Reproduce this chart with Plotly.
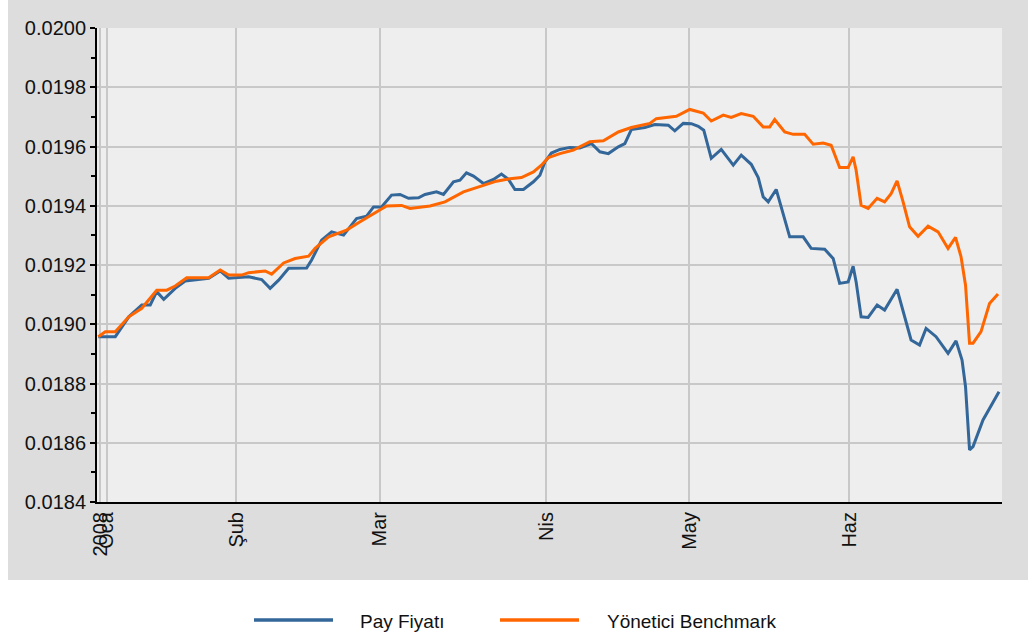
import plotly.graph_objects as go

# x = trading-day index, values in price units
pay_x = [0.2, 3.6, 6.3, 8.9, 10.6, 11.9, 13.3, 15.6, 17.6, 22.3, 24.6, 26.3, 30.3, 32.9, 34.6, 36.3, 38.3, 41.9,
         42.9, 44.9, 46.9, 49.3, 51.9, 53.9, 55.3, 56.9, 58.9, 60.6, 62.3, 64.3, 65.6, 67.9, 69.3, 71.3, 72.6,
         73.9, 75.3, 77.3, 79.3, 80.9, 82.3, 83.6, 85.3, 87.3, 88.6, 89.6, 90.9, 92.6, 94.6, 96.6, 98.9, 100.6,
         102.3, 104.3, 105.6, 106.9, 109.6, 111.6, 114.3, 115.6, 117.3, 118.9, 120.3, 121.4, 122.9, 124.9, 127.3,
         128.9, 130.9, 132.3, 133.3, 134.3, 135.9, 137.3, 138.6, 141.3, 142.9, 145.6, 147.3, 148.6, 150.3, 151.3,
         151.9, 152.9, 154.3, 156.1, 157.6, 160.1, 161.3, 162.9, 164.6, 165.9, 167.9, 170.3, 171.9, 173.1, 173.8,
         174.6, 175.3, 177.3, 180.5]
pay_y = [0.018958, 0.018958, 0.019025, 0.019065, 0.019065, 0.019110, 0.019084, 0.019121, 0.019146, 0.019155,
         0.019180, 0.019155, 0.019160, 0.019151, 0.019121, 0.019149, 0.019189, 0.019190, 0.019217, 0.019284,
         0.019312, 0.019301, 0.019357, 0.019365, 0.019396, 0.019396, 0.019436, 0.019438, 0.019425, 0.019427,
         0.019438, 0.019447, 0.019438, 0.019481, 0.019486, 0.019511, 0.019500, 0.019475, 0.019489, 0.019507,
         0.019489, 0.019455, 0.019455, 0.019481, 0.019503, 0.019548, 0.019578, 0.019590, 0.019597, 0.019595,
         0.019610, 0.019582, 0.019576, 0.019599, 0.019610, 0.019657, 0.019664, 0.019674, 0.019672, 0.019653,
         0.019678, 0.019677, 0.019668, 0.019655, 0.019560, 0.019590, 0.019537, 0.019571, 0.019540, 0.019495,
         0.019430, 0.019413, 0.019455, 0.019368, 0.019295, 0.019295, 0.019256, 0.019253, 0.019222, 0.019138,
         0.019143, 0.019196, 0.019143, 0.019025, 0.019023, 0.019065, 0.019048, 0.019118, 0.019048, 0.018947,
         0.018930, 0.018986, 0.018958, 0.018902, 0.018944, 0.018879, 0.018789, 0.018576, 0.018587, 0.018677,
         0.018772]

bench_x = [0.2, 1.6, 3.6, 6.3, 8.9, 11.9, 13.9, 15.6, 17.9, 22.3, 24.6, 26.3, 28.9, 30.3, 33.6, 34.9, 37.3,
           39.6, 42.3, 43.6, 46.3, 49.9, 52.6, 55.3, 57.9, 60.9, 62.6, 66.6, 69.6, 73.3, 76.9, 79.9, 82.6, 84.9,
           87.3, 88.9, 90.3, 92.6, 95.3, 98.6, 101.3, 104.3, 106.9, 110.6, 111.9, 115.9, 118.6, 121.3, 122.9,
           125.3, 126.9, 128.9, 131.3, 133.3, 134.6, 135.6, 137.6, 139.3, 141.6, 143.3, 145.3, 146.9, 148.6,
           150.3, 151.3, 151.9, 152.9, 154.3, 156.1, 157.6, 158.9, 160.1, 161.3, 162.6, 164.3, 166.3, 168.3,
           170.3, 171.8, 172.9, 173.8, 174.6, 175.3, 176.9, 178.6, 180.3]
bench_y = [0.018958, 0.018975, 0.018975, 0.019025, 0.019054, 0.019115, 0.019115, 0.019129, 0.019157, 0.019157,
           0.019183, 0.019166, 0.019166, 0.019174, 0.019180, 0.019169, 0.019207, 0.019222, 0.019230, 0.019256,
           0.019295, 0.019318, 0.019346, 0.019374, 0.019399, 0.019401, 0.019391, 0.019399, 0.019413, 0.019447,
           0.019466, 0.019483, 0.019491, 0.019495, 0.019514, 0.019537, 0.019563, 0.019576, 0.019588, 0.019616,
           0.019619, 0.019649, 0.019664, 0.019678, 0.019694, 0.019702, 0.019725, 0.019713, 0.019686, 0.019706,
           0.019698, 0.019711, 0.019702, 0.019666, 0.019666, 0.019691, 0.019649, 0.019641, 0.019641, 0.019608,
           0.019612, 0.019604, 0.019529, 0.019529, 0.019565, 0.019520, 0.019402, 0.019391, 0.019425, 0.019413,
           0.019441, 0.019484, 0.019413, 0.019329, 0.019297, 0.019331, 0.019312, 0.019256, 0.019293, 0.019228,
           0.019132, 0.018936, 0.018936, 0.018975, 0.019070, 0.019102]

tick_pos = [0.6, 1.9, 27.8, 56.5, 89.9, 118.5, 150.5]
tick_text = ["2008", "Oca", "Şub", "Mar", "Nis", "May", "Haz"]

series_names = ["Pay Fiyatı", "Yönetici Benchmark"]
BLUE = "#336699"
ORANGE = "#ff6600"
FONT = "Liberation Sans, Arial, sans-serif"
TXT = "#111111"

fig = go.Figure()
fig.add_trace(go.Scatter(x=pay_x, y=pay_y, mode="lines", name=series_names[0],
                         line=dict(color=BLUE, width=3)))
fig.add_trace(go.Scatter(x=bench_x, y=bench_y, mode="lines", name=series_names[1],
                         line=dict(color=ORANGE, width=3)))

W, H = 1028, 639
L, R, T, B = 97, 26, 28, 137
pw, ph = W - L - R, H - T - B

def px(xp):
    return (xp - L) / pw

def py(yp):
    return (H - B - yp) / ph

shapes = [
    # white strips outside the grey panel
    dict(type="rect", xref="paper", yref="paper", x0=px(0), x1=px(W), y0=py(H), y1=py(580),
         fillcolor="white", line=dict(width=0), layer="below"),
    dict(type="rect", xref="paper", yref="paper", x0=px(0), x1=px(8), y0=py(H), y1=py(0),
         fillcolor="white", line=dict(width=0), layer="below"),
]

# legend drawn below the panel (long sample lines as in the original)
legend_items = [(series_names[0], BLUE, 254, 333, 358), (series_names[1], ORANGE, 500, 579, 605)]
annotations = []
for name, col, lx0, lx1, tx in legend_items:
    shapes.append(dict(type="line", xref="paper", yref="paper", x0=px(lx0), x1=px(lx1),
                       y0=py(620), y1=py(620), line=dict(color=col, width=3.5)))
    annotations.append(dict(xref="paper", yref="paper", x=px(tx), y=py(621), text=name,
                            showarrow=False, xanchor="left", yanchor="middle",
                            font=dict(family=FONT, size=19, color=TXT)))

fig.update_layout(
    width=W, height=H,
    margin=dict(l=L, r=R, t=T, b=B, pad=0),
    paper_bgcolor="#dddddd",
    plot_bgcolor="#eeeeee",
    font=dict(family=FONT, size=20, color=TXT),
    shapes=shapes,
    annotations=annotations,
    showlegend=False,
    xaxis=dict(range=[-0.06, 181.1], tickmode="array", tickvals=tick_pos, ticktext=tick_text,
               tickangle=-90, showgrid=True, gridcolor="#c8c8c8", gridwidth=1.5,
               showline=True, linecolor="black", linewidth=2, ticks="", zeroline=False,
               tickfont=dict(family=FONT, size=20, color=TXT)),
    yaxis=dict(range=[0.0184, 0.0200], dtick=0.0002, tick0=0.0184, tickformat=".4f",
               showgrid=True, gridcolor="#c8c8c8", gridwidth=1.5,
               showline=True, linecolor="black", linewidth=2, ticks="outside", ticklen=5,
               tickcolor="black", tickwidth=1.5, zeroline=False,
               minor=dict(dtick=0.0001, ticks="outside", ticklen=4, tickcolor="black", showgrid=False),
               tickfont=dict(family=FONT, size=20, color=TXT)),
)

fig.write_html("out.html", config={"displayModeBar": False},
               post_script="document.body.style.margin='0px';")
